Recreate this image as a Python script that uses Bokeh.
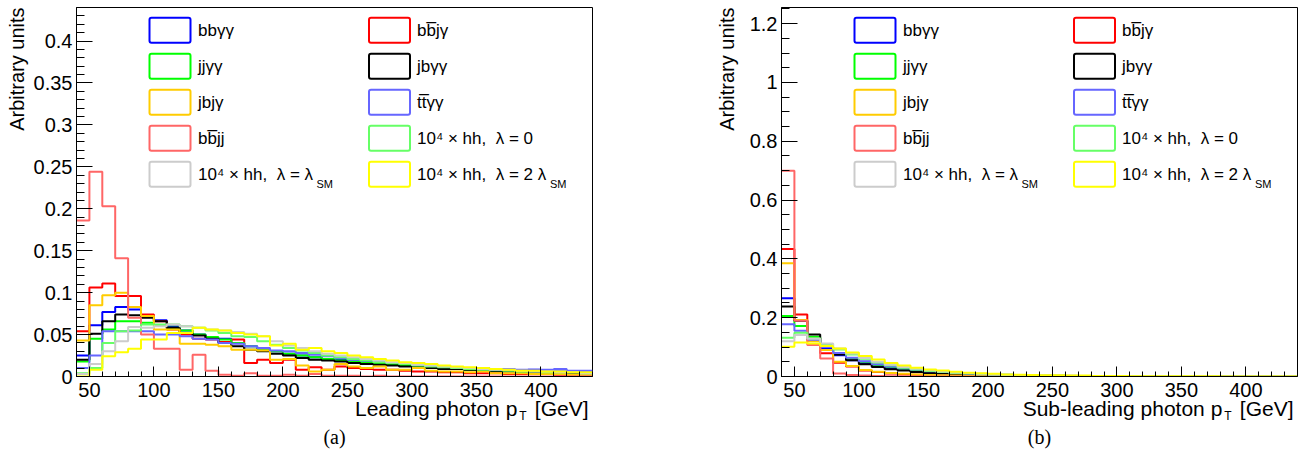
import numpy as np
from bokeh.plotting import figure
from bokeh.layouts import row
from bokeh.models import Label, BoxAnnotation, CustomJSTickFormatter, SingleIntervalTicker, Range1d, Title
from bokeh.embed import file_html
from bokeh.resources import INLINE

# bin edges (GeV): 40 bins of 10 GeV from 40 to 440
bin_lo = 40
bin_w = 10
n_bins = 40

NB = "\u00a0"
labels = ["bbγγ", "bb\u0305jγ", "jjγγ", "jbγγ", "jbjγ", "tt\u0305γγ", "bb\u0305jj",
          "10⁴ × hh," + NB * 2 + "λ = 0", "10⁴ × hh," + NB * 2 + "λ = λ", "10⁴ × hh," + NB * 2 + "λ = 2 λ"]
sub_labels = ["", "", "", "", "", "", "", "", "SM", "SM"]
colors = ["#0000ff", "#ff0000", "#00ff00", "#000000", "#ffcc00", "#6666ff", "#ff6666",
          "#66ff66", "#cccccc", "#ffff00"]

# Leading photon pT, normalised
lead_bbyy = [0.025, 0.061, 0.077, 0.083, 0.080, 0.071, 0.067, 0.060, 0.055, 0.050, 0.046, 0.045, 0.040, 0.036, 0.033, 0.030, 0.027, 0.025, 0.023, 0.021,
             0.020, 0.018, 0.017, 0.015, 0.014, 0.013, 0.012, 0.011, 0.010, 0.009, 0.009, 0.008, 0.007, 0.007, 0.006, 0.008, 0.006, 0.006, 0.005, 0.005]
lead_bbjy = [0.054, 0.106, 0.111, 0.096, 0.096, 0.074, 0.066, 0.056, 0.050, 0.045, 0.044, 0.041, 0.044, 0.016, 0.020, 0.016, 0.020, 0.008, 0.011, 0.008,
             0.012, 0.010, 0.009, 0.008, 0.008, 0.007, 0.006, 0.006, 0.005, 0.005, 0.004, 0.004, 0.004, 0.003, 0.003, 0.003, 0.003, 0.002, 0.002, 0.002]
lead_jjyy = [0.018, 0.045, 0.056, 0.066, 0.066, 0.064, 0.061, 0.058, 0.055, 0.050, 0.047, 0.044, 0.040, 0.036, 0.033, 0.030, 0.027, 0.025, 0.023, 0.021,
             0.019, 0.018, 0.016, 0.015, 0.014, 0.013, 0.012, 0.011, 0.010, 0.009, 0.008, 0.008, 0.007, 0.007, 0.006, 0.006, 0.005, 0.005, 0.005, 0.004]
lead_jbyy = [0.020, 0.051, 0.066, 0.074, 0.073, 0.070, 0.066, 0.058, 0.052, 0.049, 0.045, 0.040, 0.036, 0.032, 0.030, 0.027, 0.025, 0.022, 0.020, 0.019,
             0.018, 0.016, 0.015, 0.014, 0.013, 0.012, 0.011, 0.010, 0.009, 0.009, 0.008, 0.007, 0.007, 0.006, 0.006, 0.005, 0.005, 0.005, 0.004, 0.004]
lead_jbjy = [0.043, 0.085, 0.097, 0.100, 0.083, 0.072, 0.056, 0.056, 0.039, 0.039, 0.038, 0.036, 0.032, 0.032, 0.031, 0.020, 0.021, 0.013, 0.006, 0.008,
             0.015, 0.012, 0.010, 0.012, 0.008, 0.008, 0.010, 0.007, 0.006, 0.006, 0.005, 0.006, 0.004, 0.004, 0.004, 0.003, 0.003, 0.003, 0.002, 0.002]
lead_ttyy = [0.010, 0.025, 0.054, 0.054, 0.054, 0.054, 0.050, 0.050, 0.048, 0.045, 0.044, 0.040, 0.039, 0.036, 0.034, 0.031, 0.030, 0.028, 0.026, 0.024,
             0.022, 0.020, 0.019, 0.018, 0.016, 0.015, 0.014, 0.013, 0.012, 0.011, 0.010, 0.010, 0.009, 0.009, 0.008, 0.008, 0.008, 0.009, 0.007, 0.007]
lead_bbjj = [0.186, 0.244, 0.203, 0.141, 0.070, 0.050, 0.033, 0.033, 0.008, 0.026, 0.007, 0.002, 0.001, 0.004, 0.001, 0.001, 0.002, 0.001, 0.003, 0.001,
             0.001, 0.001, 0.000, 0.001, 0.000, 0.000, 0.000, 0.000, 0.000, 0.000, 0.000, 0.000, 0.000, 0.000, 0.000, 0.000, 0.000, 0.000, 0.000, 0.000]
lead_hh0 = [0.004, 0.010, 0.040, 0.054, 0.055, 0.062, 0.062, 0.062, 0.060, 0.058, 0.055, 0.052, 0.048, 0.047, 0.042, 0.038, 0.034, 0.031, 0.028, 0.025,
            0.023, 0.021, 0.019, 0.017, 0.016, 0.015, 0.013, 0.012, 0.011, 0.010, 0.009, 0.008, 0.008, 0.007, 0.006, 0.006, 0.005, 0.005, 0.005, 0.004]
lead_hhsm = [0.003, 0.015, 0.030, 0.042, 0.059, 0.058, 0.060, 0.062, 0.060, 0.058, 0.056, 0.055, 0.053, 0.051, 0.048, 0.042, 0.037, 0.034, 0.030, 0.027,
             0.025, 0.023, 0.021, 0.019, 0.017, 0.016, 0.014, 0.013, 0.012, 0.011, 0.010, 0.009, 0.008, 0.008, 0.007, 0.006, 0.006, 0.005, 0.005, 0.004]
lead_hh2sm = [0.000, 0.008, 0.024, 0.029, 0.033, 0.044, 0.044, 0.052, 0.052, 0.058, 0.056, 0.055, 0.052, 0.050, 0.048, 0.037, 0.039, 0.032, 0.034, 0.030,
              0.028, 0.025, 0.023, 0.021, 0.019, 0.017, 0.016, 0.015, 0.013, 0.012, 0.011, 0.010, 0.009, 0.008, 0.007, 0.007, 0.006, 0.006, 0.005, 0.005]

# Sub-leading photon pT, normalised
sub_bbyy = [0.266, 0.190, 0.130, 0.095, 0.072, 0.055, 0.045, 0.035, 0.028, 0.022, 0.018, 0.014, 0.011, 0.009, 0.007, 0.006, 0.005, 0.004, 0.003, 0.003,
            0.002, 0.002, 0.002, 0.001, 0.001, 0.001, 0.001, 0.001, 0.001, 0.001, 0.001, 0.000, 0.000, 0.000, 0.000, 0.000, 0.000, 0.000, 0.000, 0.000]
sub_bbjy = [0.434, 0.211, 0.130, 0.079, 0.047, 0.034, 0.020, 0.015, 0.010, 0.008, 0.006, 0.004, 0.003, 0.003, 0.002, 0.002, 0.001, 0.001, 0.001, 0.001,
            0.001, 0.001, 0.000, 0.000, 0.000, 0.000, 0.000, 0.000, 0.000, 0.000, 0.000, 0.000, 0.000, 0.000, 0.000, 0.000, 0.000, 0.000, 0.000, 0.000]
sub_jjyy = [0.206, 0.172, 0.135, 0.100, 0.080, 0.062, 0.050, 0.040, 0.032, 0.026, 0.020, 0.016, 0.013, 0.010, 0.008, 0.007, 0.006, 0.005, 0.004, 0.003,
            0.003, 0.002, 0.002, 0.002, 0.001, 0.001, 0.001, 0.001, 0.001, 0.001, 0.001, 0.000, 0.000, 0.000, 0.000, 0.000, 0.000, 0.000, 0.000, 0.000]
sub_jbyy = [0.238, 0.190, 0.143, 0.100, 0.075, 0.055, 0.042, 0.032, 0.025, 0.020, 0.015, 0.012, 0.010, 0.008, 0.006, 0.005, 0.004, 0.003, 0.003, 0.002,
            0.002, 0.002, 0.001, 0.001, 0.001, 0.001, 0.001, 0.001, 0.000, 0.000, 0.000, 0.000, 0.000, 0.000, 0.000, 0.000, 0.000, 0.000, 0.000, 0.000]
sub_jbjy = [0.385, 0.192, 0.120, 0.090, 0.050, 0.036, 0.022, 0.016, 0.012, 0.009, 0.007, 0.005, 0.004, 0.003, 0.002, 0.002, 0.001, 0.001, 0.001, 0.001,
            0.001, 0.000, 0.000, 0.000, 0.000, 0.000, 0.000, 0.000, 0.000, 0.000, 0.000, 0.000, 0.000, 0.000, 0.000, 0.000, 0.000, 0.000, 0.000, 0.000]
sub_ttyy = [0.178, 0.156, 0.125, 0.100, 0.080, 0.064, 0.052, 0.042, 0.034, 0.028, 0.023, 0.018, 0.015, 0.012, 0.010, 0.008, 0.007, 0.006, 0.005, 0.004,
            0.003, 0.003, 0.002, 0.002, 0.002, 0.001, 0.001, 0.001, 0.001, 0.001, 0.001, 0.001, 0.000, 0.000, 0.000, 0.000, 0.000, 0.000, 0.000, 0.000]
sub_bbjj = [0.700, 0.190, 0.107, 0.061, 0.010, 0.005, 0.003, 0.002, 0.001, 0.001, 0.000, 0.000, 0.000, 0.000, 0.000, 0.000, 0.000, 0.000, 0.000, 0.000,
            0.000, 0.000, 0.000, 0.000, 0.000, 0.000, 0.000, 0.000, 0.000, 0.000, 0.000, 0.000, 0.000, 0.000, 0.000, 0.000, 0.000, 0.000, 0.000, 0.000]
sub_hh0 = [0.132, 0.149, 0.130, 0.110, 0.092, 0.075, 0.060, 0.048, 0.038, 0.030, 0.024, 0.019, 0.015, 0.012, 0.010, 0.008, 0.007, 0.006, 0.005, 0.004,
           0.003, 0.003, 0.002, 0.002, 0.002, 0.001, 0.001, 0.001, 0.001, 0.001, 0.001, 0.001, 0.000, 0.000, 0.000, 0.000, 0.000, 0.000, 0.000, 0.000]
sub_hhsm = [0.120, 0.141, 0.128, 0.112, 0.095, 0.078, 0.063, 0.050, 0.040, 0.032, 0.026, 0.021, 0.017, 0.014, 0.011, 0.009, 0.007, 0.006, 0.005, 0.004,
            0.004, 0.003, 0.003, 0.002, 0.002, 0.002, 0.001, 0.001, 0.001, 0.001, 0.001, 0.001, 0.001, 0.000, 0.000, 0.000, 0.000, 0.000, 0.000, 0.000]
sub_hh2sm = [0.101, 0.116, 0.112, 0.104, 0.095, 0.082, 0.070, 0.058, 0.046, 0.037, 0.030, 0.024, 0.020, 0.016, 0.013, 0.011, 0.009, 0.007, 0.006, 0.005,
             0.004, 0.004, 0.003, 0.003, 0.002, 0.002, 0.002, 0.001, 0.001, 0.001, 0.001, 0.001, 0.001, 0.001, 0.000, 0.000, 0.000, 0.000, 0.000, 0.000]

lead_series = [lead_bbyy, lead_bbjy, lead_jjyy, lead_jbyy, lead_jbjy, lead_ttyy, lead_bbjj, lead_hh0, lead_hhsm, lead_hh2sm]
sub_series = [sub_bbyy, sub_bbjy, sub_jjyy, sub_jbyy, sub_jbjy, sub_ttyy, sub_bbjj, sub_hh0, sub_hhsm, sub_hh2sm]

FONT = "Liberation Sans"
FRAME_W = 520
FRAME_H = 369
TOP = 7
BOTTOM = 79


def make_panel(series, ymax, yint, yminor, xtitle, caption, border_left, border_right, ytitle_standoff):
    edges = [bin_lo + i * bin_w for i in range(n_bins + 1)]
    p = figure(width=border_left + FRAME_W + border_right, height=TOP + FRAME_H + BOTTOM,
               x_range=Range1d(bin_lo, bin_lo + n_bins * bin_w), y_range=Range1d(0, ymax),
               output_backend="svg", toolbar_location=None,
               min_border_left=border_left, min_border_right=border_right, min_border_top=TOP,
               min_border_bottom=BOTTOM)
    p.xgrid.visible = False
    p.ygrid.visible = False
    p.outline_line_color = "black"
    p.outline_line_width = 1
    p.background_fill_color = "white"
    p.border_fill_color = "white"

    for vals, col in zip(series, colors):
        p.step(x=edges, y=list(vals) + [vals[-1]], mode="after", line_color=col, line_width=2)

    fmt = CustomJSTickFormatter(code="return String(Math.round(tick*1000)/1000);")
    p.xaxis.ticker = SingleIntervalTicker(interval=50, num_minor_ticks=5)
    p.yaxis.ticker = SingleIntervalTicker(interval=yint, num_minor_ticks=yminor)
    p.yaxis.formatter = fmt
    p.xaxis.formatter = fmt
    for ax in (p.xaxis[0], p.yaxis[0]):
        ax.axis_line_color = "black"
        ax.major_tick_out = 0
        ax.minor_tick_out = 0
        ax.major_label_text_font = FONT
        ax.major_label_text_font_size = "20px"
        ax.major_label_text_color = "black"
        ax.major_tick_line_color = "black"
        ax.minor_tick_line_color = "black"
    p.yaxis.major_tick_in = 16
    p.yaxis.minor_tick_in = 8
    p.xaxis.major_tick_in = 10
    p.xaxis.minor_tick_in = 5
    p.yaxis.major_label_standoff = 4
    p.xaxis.major_label_standoff = 6

    # y title (top aligned, outside the tick labels)
    p.add_layout(Title(text="Arbitrary units", align="right", offset=0, standoff=ytitle_standoff,
                       text_font=FONT, text_font_size="20px", text_font_style="normal",
                       text_color="black"), "left")
    # x title, right aligned: main text row, then the subscript row, then the caption
    p.add_layout(Title(text=xtitle + NB * 3 + "[GeV]", align="right", offset=4, standoff=-10,
                       text_font=FONT, text_font_size="21px", text_font_style="normal",
                       text_color="black"), "below")
    p.add_layout(Title(text="T", align="right", offset=66, standoff=-15,
                       text_font=FONT, text_font_size="12px", text_font_style="normal",
                       text_color="black"), "below")
    p.add_layout(Title(text=caption, align="center", standoff=16, text_font="Liberation Serif",
                       text_font_size="20px", text_font_style="normal", text_color="black"), "below")

    # legend, two columns of five
    col_items = [[0, 2, 4, 6, 8], [1, 3, 5, 7, 9]]
    box_x = [73, 292.5]
    text_x = [121.5, 340.5]
    sub_x = [240, 473.5]
    for c in range(2):
        for r, k in enumerate(col_items[c]):
            top = FRAME_H - 10.3 - 36 * r
            p.add_layout(BoxAnnotation(left=box_x[c], right=box_x[c] + 41, top=top, bottom=top - 25,
                                       left_units="screen", right_units="screen",
                                       top_units="screen", bottom_units="screen",
                                       fill_alpha=0, line_color=colors[k], line_alpha=1.0, line_width=2,
                                       border_radius=2))
            p.add_layout(Label(x=text_x[c], y=top - 12.5, x_units="screen", y_units="screen",
                               text=labels[k], text_align="left", text_baseline="middle",
                               text_font=FONT, text_font_size="17px", text_color="black"))
            if sub_labels[k]:
                p.add_layout(Label(x=sub_x[c], y=top - 22, x_units="screen", y_units="screen",
                                   text=sub_labels[k], text_align="left", text_baseline="alphabetic",
                                   text_font=FONT, text_font_size="11px", text_color="black"))
    return p


p1 = make_panel(lead_series, 0.44, 0.05, 5, "Leading photon p", "(a)", 72, 113, 6)
p2 = make_panel(sub_series, 1.255, 0.2, 4, "Sub-leading photon p", "(b)", 72, 2, 17)
layout = row(p1, p2, spacing=0)

open("out.html", "w").write(file_html(layout, INLINE))
